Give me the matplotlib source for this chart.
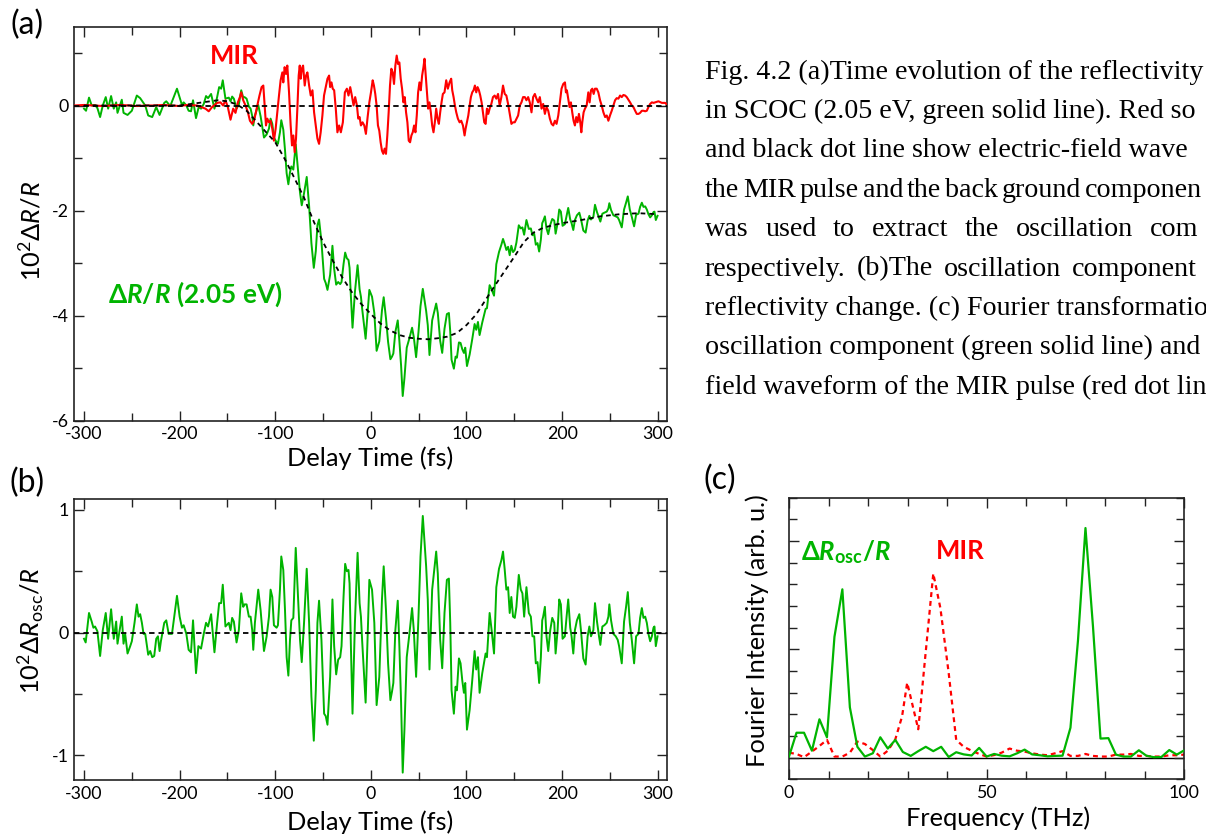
import matplotlib
matplotlib.use('Agg')
import matplotlib.pyplot as plt
from matplotlib.ticker import MultipleLocator, FixedLocator, NullFormatter

plt.rcParams['font.family'] = ['Lato', 'DejaVu Sans']
plt.rcParams['mathtext.fontset'] = 'custom'
plt.rcParams['mathtext.rm'] = 'Lato'
plt.rcParams['mathtext.it'] = 'Lato:italic'
plt.rcParams['mathtext.bf'] = 'Lato:bold'
plt.rcParams['mathtext.bfit'] = 'Lato:bold:italic'
plt.rcParams['mathtext.fallback'] = 'stixsans'
plt.rcParams['axes.unicode_minus'] = False

# ---------------- data ----------------
# (a) green: transient reflectivity dR/R (2.05 eV), delay (fs), value (10^-2)
green_a_pts = [(-300.0,-0.06),(-297.9,-0.10),(-294.8,0.15),(-292.0,0.00),(-288.5,0.01),(-286.0,-0.05),(-283.2,-0.22),(-280.4,0.00),(-277.3,0.16),(-274.8,-0.06),(-271.7,0.18),(-268.9,-0.06),(-266.4,0.06),(-265.0,-0.14),(-260.5,0.11),(-258.7,-0.14),(-254.5,-0.18),(-250.0,-0.10),(-244.8,0.19),(-241.3,0.14),(-236.0,0.00),(-232.9,-0.19),(-228.7,-0.22),(-224.5,-0.03),(-221.0,-0.18),(-216.1,0.05),(-214.0,0.08),(-209.8,-0.01),(-202.8,0.32),(-197.6,0.01),(-195.8,0.06),(-193.0,0.00),(-190.6,-0.10),(-188.1,-0.11),(-186.0,0.10),(-182.9,-0.24),(-180.1,-0.03),(-177.6,-0.06),(-174.8,0.03),(-172.4,0.18),(-170.3,0.14),(-167.1,0.22),(-163.6,-0.06),(-160.8,0.16),(-158.7,0.35),(-156.6,0.32),(-154.9,0.48),
(-152.1,0.13),(-148.6,0.15),(-146.8,0.08),(-145.1,0.17),(-143.3,0.13),(-140.5,-0.06),(-138.1,0.02),(-135.6,0.29),(-133.5,0.15),(-132.1,0.16),(-130.0,0.13),(-127.6,-0.02),(-125.8,-0.06),(-124.1,-0.20),(-123.0,-0.38),(-121.3,-0.19),(-117.8,0.01),(-115.3,-0.21),(-113.6,-0.41),(-111.8,-0.61),(-109.0,-0.55),(-106.6,-0.44),(-104.9,-0.25),(-103.1,-0.35),(-101.4,-0.61),(-98.6,-0.70),(-97.2,-0.73),(-95.1,-0.51),(-93.7,-0.28),(-91.6,-0.46),(-89.8,-0.85),(-88.1,-1.29),(-86.3,-1.50),(-84.6,-1.27),(-83.2,-1.16),(-81.1,-1.22),(-78.6,-0.74),(-76.2,-1.23),(-74.1,-1.66),(-72.3,-1.90),(-69.9,-1.67),(-67.1,-1.36),(-64.6,-1.91),(-62.2,-2.62),(-59.7,-3.09),(-57.6,-2.77),(-55.9,-2.28),(-54.2,-2.17),(-51.7,-2.59),(-48.9,-3.30),(-47.2,-3.38),(-45.4,-3.51),(-42.6,-3.22),(-40.2,-2.67),(-38.4,-3.11),(-36.3,-3.41),(-34.2,-3.36),(-32.1,-3.40),(-30.7,-3.36),(-28.6,-3.02),(-26.9,-2.80),(-25.1,-2.91),(-23.4,-2.94),(-22.3,-3.09),(-20.9,-3.63),(-19.2,-4.23),(-16.7,-3.55),(-13.9,-3.04),(-11.8,-3.50),(-10.4,-3.64),(-9.1,-3.87),(-5.5,-4.44),(-1.6,-3.51),(1.2,-3.64),(3.6,-3.95),(6.0,-4.67),(8.8,-4.49),(11.6,-3.90),(13.4,-3.65),(15.8,-4.05),(18.0,-4.50),(20.4,-4.83),(22.1,-4.78),(23.5,-4.72),(25.6,-4.31),(28.1,-4.09),(29.8,-4.48),(31.6,-4.95),(33.3,-5.53),(35.1,-5.19),(37.5,-4.61),(40.3,-4.43),(43.1,-4.23),(44.9,-4.41),(47.3,-4.79),(49.8,-4.31),(51.9,-3.82),(54.3,-3.49),(56.0,-3.70),(57.8,-3.91),(59.5,-4.18),(61.3,-4.75),(64.1,-4.09),(68.3,-3.77),(70.0,-3.95),(72.5,-4.48),(74.6,-4.71),(77.0,-4.25),(79.5,-3.97),(81.6,-3.95),(83.0,-4.30),(84.4,-4.84),(86.8,-5.01),(88.6,-4.78),(90.0,-4.80),(92.1,-4.51),(93.8,-4.52),(95.6,-4.64),(97.3,-4.71),(98.7,-4.61),(100.5,-4.96),(103.3,-4.74),(106.0,-4.45),(108.5,-4.16),(110.2,-4.27),(112.0,-4.12),(113.7,-4.37),(116.5,-4.13),(120.0,-3.87),(121.4,-3.86),(124.2,-3.42),(126.3,-3.50),(128.8,-3.62),(131.2,-3.02),(134.0,-2.79),(136.5,-2.65),(138.2,-2.54),(140.0,-2.64),(141.7,-2.75),(143.5,-2.69),(145.2,-2.85),(146.9,-2.67),(148.7,-2.79),(150.5,-2.75),(152.2,-2.61),(154.7,-2.28),(156.8,-2.34),(158.5,-2.32),(160.3,-2.46),(162.7,-2.18),(165.2,-2.35),(167.3,-2.34),(169.0,-2.47),(170.8,-2.44),(172.5,-2.65),(174.3,-2.62),(176.0,-2.78),(177.8,-2.55),(179.2,-2.24),(180.2,-2.20),(182.0,-2.11),(183.7,-2.34),(185.5,-2.45),(187.6,-2.27),(189.7,-2.16),(191.8,-2.19),(193.2,-2.44),(195.3,-2.24),(197.0,-1.98),(198.7,-2.02),(200.5,-2.29),(202.9,-2.26),(204.7,-2.10),(206.4,-1.95),(208.5,-2.17),(209.9,-2.24),(211.7,-2.37),(213.4,-2.18),(215.5,-2.09),(218.0,-2.04),(219.7,-2.16),(222.2,-2.38),(224.6,-2.42),(226.7,-2.19),(228.5,-2.10),(230.2,-2.17),(232.7,-2.12),(234.4,-1.89),(236.5,-2.03),(238.6,-2.14),(240.0,-2.21),(242.1,-2.06),(244.2,-2.04),(246.7,-2.02),(248.4,-1.96),(249.4,-1.86),(251.2,-1.99),(253.6,-2.09),(256.1,-2.11),(258.2,-2.13),(259.6,-2.18),(262.4,-2.32),(264.8,-1.98),(266.9,-1.85),(268.7,-1.73),(270.8,-1.98),(272.9,-2.12),(275.3,-2.30),(277.4,-2.08),(279.9,-2.06),(281.6,-1.93),(283.4,-1.85),(285.1,-1.93),(286.9,-1.92),(288.6,-1.98),(290.3,-2.07),(292.1,-2.13),(293.9,-2.09),(295.6,-2.03),(296.6,-2.02),(298.0,-2.18),(299.8,-2.10)]

# (a) black dotted background component
fit_pts = [(-300,0.0),(-200,0.0),(-180,0.05),(-160,0.10),(-150,0.08),(-140,0.02),(-130,-0.10),(-120,-0.30),(-110,-0.50),(-100,-0.70),(-90,-1.02),(-80,-1.38),(-70,-1.75),(-60,-2.20),(-50,-2.60),(-40,-2.95),(-30,-3.27),(-20,-3.55),(-10,-3.78),(0,-3.97),(10,-4.15),(20,-4.28),(30,-4.37),(40,-4.42),(50,-4.44),(60,-4.45),(70,-4.43),(80,-4.40),(90,-4.33),(100,-4.18),(110,-3.98),(120,-3.70),(130,-3.42),(140,-3.15),(150,-2.88),(160,-2.60),(170,-2.42),(180,-2.33),(190,-2.28),(200,-2.24),(220,-2.18),(240,-2.11),(260,-2.07),(280,-2.05),(300,-2.07)]

# (a) red: MIR electric-field waveform
mir_pts = [(-310.0,0.00),(-300.0,0.01),(-290.0,0.00),(-279.7,-0.01),(-270.0,0.00),(-262.2,0.01),(-252.0,0.00),(-244.8,-0.01),(-235.0,0.00),(-227.3,0.00),(-218.0,0.01),(-209.8,0.00),(-200.0,-0.01),(-192.3,0.01),(-181.8,0.00),(-173.0,-0.06),(-169.6,-0.11),(-166.1,-0.03),(-160.8,0.05),
(-157.3,0.06),(-154.5,0.00),(-152.1,0.10),(-149.6,-0.03),(-146.8,-0.27),(-144.0,-0.06),(-141.6,-0.14),(-139.1,0.06),(-137.0,0.16),(-135.6,0.25),(-133.5,0.10),(-131.1,0.00),(-128.6,-0.13),(-126.5,-0.29),(-124.1,-0.35),(-122.3,-0.29),(-120.6,-0.16),(-118.8,0.00),(-116.5,0.19),(-114.3,0.35),(-112.5,0.38),(-111.1,0.00),(-109.7,-0.38),(-108.3,-0.25),(-106.6,-0.32),(-104.9,-0.29),(-103.1,-0.44),(-101.4,-0.67),(-99.6,-0.44),(-97.9,-0.13),(-96.1,0.19),(-94.4,0.48),(-92.6,0.63),(-91.6,0.44),(-90.2,0.73),(-88.8,0.60),(-87.4,0.76),(-85.6,0.25),(-83.9,-0.38),(-82.5,-0.76),(-81.1,-0.57),(-79.7,-0.89),(-78.3,-0.63),(-76.9,-0.06),(-75.5,0.57),(-74.4,0.76),(-73.4,0.51),(-72.3,0.70),(-70.9,0.76),(-69.2,0.38),(-67.8,0.57),(-66.4,0.63),(-64.6,0.38),(-62.9,0.19),(-61.1,0.29),(-59.4,-0.13),(-57.6,-0.38),(-55.9,-0.63),(-54.2,-0.73),(-52.5,-0.51),(-50.7,-0.19),(-49.0,0.19),(-47.2,0.35),(-45.4,0.51),(-43.7,0.57),(-42.6,0.35),(-41.2,0.44),(-39.9,0.32),(-38.4,0.29),(-36.7,-0.06),(-35.0,-0.51),(-33.2,-0.38),(-31.4,-0.51),(-29.3,-0.32),(-27.2,0.25),(-25.1,0.32),(-23.4,0.19),(-21.6,0.35),(-19.9,0.19),(-18.1,0.00),(-16.4,0.16),(-14.6,0.00),(-13.2,-0.25),(-11.8,-0.22),(-10.4,-0.38),(-8.7,-0.32),(-6.9,-0.38),(-5.2,-0.54),
(-3.4,-0.22),(-1.6,0.06),(0.1,0.25),(1.9,0.48),(3.2,0.38),(4.6,0.22),(6.0,0.00),(7.4,-0.38),(8.8,-0.48),(10.2,-0.70),(11.6,-0.86),(13.0,-0.92),(14.4,-0.82),(15.8,-0.92),(17.2,-0.57),(18.6,-0.13),(20.0,0.38),(21.4,0.70),(22.8,0.63),(24.2,0.41),(25.6,0.76),(27.0,0.95),(28.4,0.79),(29.8,0.82),(31.2,0.51),(32.6,0.32),(34.0,0.06),(35.4,0.16),(36.8,-0.13),(38.2,-0.32),(39.6,-0.67),(41.0,-0.70),(42.4,-0.57),(43.8,-0.51),(45.2,-0.38),(46.6,-0.51),(48.0,-0.19),(49.4,0.25),(50.8,0.44),(52.2,0.29),(53.6,0.57),(55.0,0.73),(56.1,0.89),(57.1,0.63),(58.5,0.29),(59.9,-0.06),(61.3,0.06),(62.7,-0.13),(64.1,-0.38),(65.5,-0.51),(66.9,-0.32),(68.3,-0.06),(69.7,-0.25),(71.1,-0.35),(72.5,-0.13),(73.9,0.06),(75.3,0.22),(77.0,0.25),(78.8,0.48),(80.5,0.32),(82.3,0.44),(84.0,0.51),(85.1,0.29),(86.5,0.16),(87.9,0.00),(89.3,-0.13),(91.0,-0.25),(92.8,-0.32),(94.5,-0.29),(96.3,-0.38),(98.0,-0.57),(99.1,-0.44),(100.5,-0.32),(101.9,-0.19),(103.3,0.00),(104.6,0.16),(106.0,0.25),(107.4,0.29),(108.8,0.38),(110.2,0.25),(111.6,0.35),(113.0,0.29),(114.4,0.19),(115.8,0.06),(117.2,-0.13),(118.6,-0.32),(120.0,-0.35),(121.4,-0.06),(122.8,-0.16),(124.2,-0.06),(126.0,0.03),(127.7,0.16),(129.5,0.19),(131.2,0.13),(133.0,0.22),(134.7,0.00),(136.5,0.16),(138.2,0.38),(140.0,0.22),(141.7,0.19),(143.5,0.03),(145.2,-0.16),
(147.0,-0.35),(148.7,-0.32),(150.5,-0.32),(154.0,-0.19),(155.7,0.00),(157.5,0.06),(159.2,0.16),(161.0,0.16),(162.7,0.10),(164.5,0.16),(166.2,0.06),(168.0,-0.13),(169.7,0.16),(171.5,0.22),(173.2,0.13),(175.0,0.06),(176.7,0.16),(178.5,-0.06),(180.2,0.03),(182.0,-0.16),(183.7,-0.03),(185.5,-0.10),(187.2,-0.25),(189.0,-0.35),(190.7,-0.38),(192.5,-0.29),(194.2,-0.35),(196.0,-0.19),(197.7,0.06),(199.4,0.32),(201.2,0.41),(203.0,0.44),(204.0,0.25),(205.0,0.29),(206.4,0.13),(207.8,-0.03),(209.2,0.06),(210.6,-0.13),(212.0,-0.29),(213.4,-0.38),(214.8,-0.22),(216.2,-0.32),(217.6,-0.16),(219.0,-0.32),(220.1,-0.51),(221.1,-0.32),(222.5,-0.13),(223.9,-0.06),(225.7,0.00),(227.4,0.25),(228.8,0.06),(230.2,0.29),(231.6,0.32),(233.0,0.22),(234.4,0.32),(236.2,0.32),(237.9,0.25),(239.7,0.10),(241.4,0.00),(243.2,-0.13),(245.0,-0.22),(246.7,-0.19),(248.4,-0.29),(250.1,-0.19),(251.9,-0.10),(253.6,0.00),(255.4,0.10),(257.1,0.14),(258.9,0.13),(260.6,0.19),(262.4,0.16),(264.1,0.20),(265.9,0.19),(267.6,0.16),(269.4,0.11),(271.1,0.06),(272.9,0.00),(274.6,-0.03),(276.4,-0.10),(278.1,-0.16),(279.9,-0.16),(281.6,-0.14),(283.4,-0.10),(285.1,-0.10),(286.9,-0.11),(288.6,-0.10),(290.3,-0.03),(292.1,0.03),(293.9,0.06),(295.6,0.05),(297.3,0.06),(300.8,0.08),(304.3,0.05),(307.8,0.05),(310.0,0.01)]

# (b) oscillation component dR_osc/R
osc_pts = [(-300.0,-0.05),(-298.3,-0.08),(-294.8,0.16),(-292.0,0.09),(-290.2,0.04),(-288.5,0.05),(-286.0,0.01),(-283.2,-0.19),(-280.4,0.02),(-277.3,0.16),(-274.8,-0.05),(-271.7,0.19),(-268.9,-0.05),(-266.4,0.09),(-265.0,-0.09),(-260.5,0.13),(-258.7,-0.09),(-257.0,-0.01),(-254.5,-0.17),(-251.7,-0.11),(-250.0,-0.07),(-247.2,0.08),(-244.8,0.23),(-243.0,0.13),(-241.3,0.15),(-239.5,0.08),(-237.8,-0.01),(-236.0,-0.01),(-232.9,-0.18),(-230.8,-0.15),(-228.7,-0.20),(-226.6,-0.19),(-224.5,-0.05),(-222.7,-0.03),(-221.0,-0.15),(-219.6,-0.07),(-216.1,0.08),(-214.0,0.10),(-211.5,-0.01),(-208.0,-0.01),(-205.6,0.13),(-202.8,0.30),(-200.0,0.13),(-197.6,0.04),(-195.8,0.06),(-193.0,-0.01),(-190.6,-0.14),(-188.1,-0.16),(-186.0,0.10),(-182.9,-0.33),(-180.4,-0.11),(-177.6,-0.13),(-174.8,-0.01),(-172.4,0.08),(-170.3,0.05),(-167.1,0.15),(-163.6,-0.16),(-160.8,0.08),(-158.7,0.24),(-156.6,0.24),(-154.9,0.39),
(-152.1,0.05),(-148.6,0.08),(-146.8,0.02),(-145.1,0.12),(-143.3,0.09),(-140.5,-0.08),(-138.1,0.02),(-135.6,0.32),(-133.5,0.21),(-132.1,0.23),(-130.0,0.23),(-127.6,0.13),(-125.8,0.13),(-124.1,0.02),(-123.0,-0.14),(-121.3,0.08),(-117.8,0.35),(-115.3,0.18),(-113.6,0.02),(-111.8,-0.15),(-109.0,-0.03),(-106.6,0.13),(-104.9,0.35),(-103.1,0.29),(-101.4,0.06),(-98.6,0.04),(-97.2,0.06),(-95.1,0.35),(-93.7,0.62),(-91.6,0.51),(-89.8,0.18),(-88.1,-0.20),(-86.3,-0.35),(-84.6,-0.06),(-83.2,0.10),(-81.1,0.12),(-78.6,0.69),(-76.2,0.29),(-74.1,-0.06),(-72.3,-0.24),(-69.9,0.08),(-67.1,0.52),(-64.6,0.08),(-62.2,-0.52),(-59.7,-0.88),(-57.6,-0.47),(-55.9,0.08),(-54.2,0.26),(-51.7,-0.06),(-48.9,-0.66),(-47.2,-0.68),(-45.4,-0.75),(-42.6,-0.36),(-40.2,0.27),(-38.4,-0.11),(-36.3,-0.34),(-34.2,-0.22),(-32.1,-0.20),(-30.7,-0.11),(-28.6,0.29),(-26.9,0.56),(-25.1,0.50),(-23.4,0.51),(-22.3,0.40),(-20.9,-0.11),(-19.2,-0.66),(-16.7,0.08),(-13.9,0.65),(-11.8,0.24),(-10.4,0.13),(-9.1,-0.07),(-5.5,-0.57),(-1.6,0.43),(1.2,0.35),(3.6,0.08),(6.0,-0.59),(8.8,-0.36),(11.6,0.27),(13.4,0.54),(15.8,0.18),(18.0,-0.25),(20.4,-0.55),(22.1,-0.48),(23.5,-0.41),(25.6,0.02),(28.1,0.26),(29.8,-0.11),(31.6,-0.57),(33.3,-1.14),(35.1,-0.79),(37.5,-0.20),(40.3,-0.01),(43.1,0.20),(44.9,0.02),(47.3,-0.36),(49.8,0.13),(51.9,0.62),(54.3,0.95),(56.0,0.75),(57.8,0.54),(59.5,0.27),(61.3,-0.30),(64.1,0.35),(68.3,0.66),(70.0,0.48),(72.5,-0.06),(74.6,-0.29),(77.0,0.16),(79.5,0.43),(81.6,0.44),(83.0,0.08),(84.4,-0.47),(86.8,-0.66),(88.6,-0.44),(90.0,-0.47),(92.1,-0.21),(93.8,-0.25),(95.6,-0.39),(97.3,-0.49),(98.7,-0.41),(100.5,-0.79),(103.3,-0.63),(106.0,-0.39),(108.5,-0.15),(110.2,-0.30),(112.0,-0.20),(113.7,-0.49),(116.5,-0.33),(120.0,-0.17),(121.4,-0.20),(124.2,0.16),(126.3,0.02),(128.8,-0.17),(131.2,0.37),(134.0,0.52),(136.5,0.59),(138.2,0.66),(140.0,0.51),(141.7,0.35),(143.5,0.37),(145.2,0.16),(146.9,0.29),(148.7,0.13),(150.5,0.12),(152.2,0.21),(154.7,0.47),(156.8,0.35),(158.5,0.32),(160.3,0.13),(162.7,0.37),(165.2,0.16),(167.3,0.13),(169.0,-0.03),(170.8,-0.03),(172.5,-0.25),(174.3,-0.24),(176.0,-0.41),(177.8,-0.20),(179.2,0.10),(180.2,0.13),(182.0,0.21),(183.7,-0.03),(185.5,-0.15),(187.6,0.02),(189.7,0.12),(191.8,0.08),(193.2,-0.17),(195.3,0.02),(197.0,0.27),(198.7,0.23),(200.5,-0.05),(202.9,-0.03),(204.7,0.13),(206.4,0.27),(208.5,0.04),(209.9,-0.03),(211.7,-0.17),(213.4,0.02),(215.5,0.10),(218.0,0.15),(219.7,0.02),(222.2,-0.21),(224.6,-0.26),(226.7,-0.03),(228.5,0.05),(230.2,-0.03),(232.7,0.02),(234.4,0.24),(236.5,0.09),(238.6,-0.03),(240.0,-0.10),(242.1,0.05),(244.2,0.06),(246.7,0.08),(248.4,0.13),(249.4,0.23),(251.2,0.10),(253.6,-0.01),(256.1,-0.03),(258.2,-0.06),(259.6,-0.11),(262.4,-0.25),(264.8,0.09),(266.9,0.21),(268.7,0.33),(270.8,0.08),(272.9,-0.06),(275.3,-0.25),(277.4,-0.03),(279.9,-0.01),(281.6,0.12),(283.4,0.20),(285.1,0.12),(286.9,0.13),(288.6,0.08),(290.3,-0.01),(292.1,-0.07),(293.9,-0.03),(295.6,0.04),(296.6,0.05),(298.0,-0.11),(299.8,-0.03)]

# (c) Fourier spectra
freq_osc = [0.0,1.9,3.8,5.8,7.7,9.6,11.5,13.5,15.4,17.3,19.2,21.2,23.1,25.0,26.9,28.8,30.8,32.7,34.6,36.5,38.5,40.4,42.3,44.2,46.2,48.1,50.0,51.9,53.8,55.8,57.7,59.6,61.5,63.5,65.4,67.3,69.2,71.2,73.1,75.0,76.9,78.8,80.8,82.7,84.6,86.5,88.5,90.4,92.3,94.2,96.2,98.1,100.0]
ft_osc = [0.05,1.15,1.15,0.32,1.77,0.94,5.58,7.77,2.32,0.50,0.05,0.20,0.94,0.42,0.82,0.26,0.08,0.30,0.50,0.30,0.50,0.03,0.25,0.15,0.10,0.45,0.05,0.17,0.09,0.06,0.20,0.37,0.15,0.11,0.06,0.08,0.09,1.38,5.40,10.60,6.05,0.88,0.90,0.14,0.05,0.05,0.34,0.09,0.02,0.03,0.35,0.14,0.34]
freq_mir = [0.0,1.9,3.8,5.8,7.7,9.6,11.5,13.5,15.4,17.3,19.2,21.2,23.1,25.0,26.9,28.6,29.9,32.7,36.5,38.3,40.4,42.3,44.2,46.2,48.1,50.0,51.9,53.8,55.8,57.7,59.6,61.5,63.5,65.4,67.3,69.2,71.2,73.1,75.0,76.9,78.8,80.8,82.7,84.6,86.5,88.5,90.4,92.3,94.2,96.2,98.1,100.0]
ft_mir = [0.23,0.17,0.02,0.28,0.54,0.82,0.05,0.05,0.23,0.74,0.63,0.35,0.05,0.32,0.85,1.90,3.46,1.31,8.50,6.90,3.90,0.82,0.50,0.32,0.17,0.05,0.12,0.23,0.42,0.32,0.28,0.20,0.14,0.11,0.20,0.30,0.08,0.08,0.17,0.08,0.05,0.05,0.14,0.14,0.17,0.08,0.08,0.05,0.05,0.11,0.11,0.14]

# caption, as much of each line as the reference shows
caption_lines = [
    "Fig. 4.2 (a)Time evolution of the reflectivity",
    "in SCOC (2.05 eV, green solid line). Red so",
    "and black dot line show electric-field wave",
    None,
    None,
    None,
    "reflectivity change. (c) Fourier transformatio",
    "oscillation component (green solid line) and",
    "field waveform of the MIR pulse (red dot lin",
]
# lines set word by word (justified / condensed in the reference)
caption_words = {
    3: ("the MIR pulse and the back ground componen".split(), 1202),
    4: ("was used to extract the oscillation com".split(), 1198),
    5: ("respectively. (b)The oscillation component".split(), 1197),
}

GREEN = '#00B400'
RED = '#FF0000'

def unzip(pts):
    return [p[0] for p in pts], [p[1] for p in pts]

ga_t, ga_v = unzip(green_a_pts)
fit_t, fit_v = unzip(fit_pts)
mir_t, mir_v = unzip(mir_pts)
osc_t, osc_v = unzip(osc_pts)

# ---------------- figure ----------------
W, H = 1206, 834
fig = plt.figure(figsize=(W / 100, H / 100), dpi=100)

def fx(x):
    return x / W

def fy(y):
    return 1 - y / H

def style(ax):
    ax.tick_params(which='both', direction='in', top=True, right=True,
                   labelsize=12.8, pad=4, width=1.0, color='#222222')
    ax.tick_params(which='major', length=7)
    ax.tick_params(which='minor', length=6)
    for s in ax.spines.values():
        s.set_linewidth(1.2)
        s.set_color('#222222')

axA = fig.add_axes([74 / W, fy(420.7), (666.7 - 74) / W, (420.7 - 26.7) / H])
axB = fig.add_axes([74 / W, fy(780), (666.7 - 74) / W, (780 - 499) / H])
axC = fig.add_axes([789 / W, fy(779.3), (1184.3 - 789) / W, (779.3 - 497.7) / H])

# (a)
axA.plot(ga_t, ga_v, color=GREEN, lw=1.4, zorder=2)
axA.plot(mir_t, mir_v, color=RED, lw=1.5, zorder=3)
axA.axhline(0, color='black', lw=1.3, ls=(0, (3, 2.2)), zorder=4)
axA.plot(fit_t, fit_v, color='black', lw=1.3, ls=(0, (2.6, 2.2)), zorder=4)
axA.set_xlim(-310.5, 309.4)
axA.set_ylim(-6, 1.5)
axA.xaxis.set_major_locator(MultipleLocator(100))
axA.xaxis.set_minor_locator(MultipleLocator(50))
axA.yaxis.set_major_locator(MultipleLocator(2))
axA.yaxis.set_minor_locator(MultipleLocator(1))
style(axA)

# (b)
axB.plot(osc_t, osc_v, color=GREEN, lw=1.4, zorder=2)
axB.axhline(0, color='black', lw=1.3, ls=(0, (3, 2.2)), zorder=3)
axB.set_xlim(-310.5, 309.4)
axB.set_ylim(-1.2, 1.088)
axB.xaxis.set_major_locator(MultipleLocator(100))
axB.xaxis.set_minor_locator(MultipleLocator(50))
axB.yaxis.set_major_locator(MultipleLocator(1))
axB.yaxis.set_minor_locator(MultipleLocator(0.5))
style(axB)

# (c)
axC.plot(freq_osc, ft_osc, color=GREEN, lw=1.6, zorder=3)
axC.plot(freq_mir, ft_mir, color=RED, lw=1.6, ls=(0, (2.2, 1.8)), zorder=2)
axC.axhline(0, color='black', lw=1.0, zorder=1)
axC.set_xlim(0, 100)
axC.set_ylim(-1, 12)
axC.xaxis.set_major_locator(MultipleLocator(50))
axC.xaxis.set_minor_locator(MultipleLocator(10))
axC.yaxis.set_major_locator(FixedLocator([0, 5, 10]))
axC.yaxis.set_minor_locator(MultipleLocator(1))
axC.yaxis.set_major_formatter(NullFormatter())
style(axC)

# axis labels
LAB = 18.3
fig.text(fx(370), fy(458), "Delay Time (fs)", fontsize=LAB, ha='center', va='center')
fig.text(fx(370), fy(822), "Delay Time (fs)", fontsize=LAB, ha='center', va='center')
fig.text(fx(998), fy(818), "Frequency (THz)", fontsize=LAB, ha='center', va='center')
fig.text(fx(31), fy(231), r'$10^{2}\Delta R/R$', fontsize=LAB, rotation=90, ha='center', va='center')
fig.text(fx(31), fy(631), r'$10^{2}\Delta R_{\mathrm{osc}}/R$', fontsize=LAB, rotation=90, ha='center', va='center')
fig.text(fx(757), fy(631), "Fourier Intensity (arb. u.)", fontsize=LAB, rotation=90, ha='center', va='center')

# panel letters
fig.text(fx(27), fy(25), "(a)", fontsize=23, ha='center', va='center')
fig.text(fx(27), fy(483), "(b)", fontsize=23, ha='center', va='center')
fig.text(fx(720), fy(480), "(c)", fontsize=23, ha='center', va='center')

# in-plot labels
fig.text(fx(234), fy(56), "MIR", fontsize=18.5, fontweight='bold', color=RED, ha='center', va='center')
fig.text(fx(195), fy(294), r'$\mathbf{\Delta}\mathbfit{R}\mathbf{/}\mathbfit{R}\ \mathbf{(2.05\ eV)}$',
         fontsize=18.8, color=GREEN, ha='center', va='center')
fig.text(fx(846), fy(552), r'$\mathbf{\Delta}\mathbfit{R}_{\mathbf{osc}}\mathbf{/}\mathbfit{R}$',
         fontsize=18.5, color=GREEN, ha='center', va='center')
fig.text(fx(960), fy(551), "MIR", fontsize=18.5, fontweight='bold', color=RED, ha='center', va='center')

# caption
CAP_FS = 20.2
X0 = 705
line_y = [72 + 39.4 * k for k in range(9)]
for k, line in enumerate(caption_lines):
    if line is not None:
        fig.text(fx(X0), fy(line_y[k]), line, fontsize=CAP_FS, family='Liberation Serif',
                 ha='left', va='center')

renderer = fig.canvas.get_renderer()
for k, (words, x_end) in caption_words.items():
    items = [fig.text(0, fy(line_y[k]), w, fontsize=CAP_FS, family='Liberation Serif',
                      ha='left', va='center') for w in words]
    widths = [t.get_window_extent(renderer).width for t in items]
    gap = (x_end - X0 - sum(widths)) / (len(words) - 1)
    x = X0
    for t, wdt in zip(items, widths):
        t.set_x(fx(x))
        x += wdt + gap

fig.savefig('out.png', dpi=100)
